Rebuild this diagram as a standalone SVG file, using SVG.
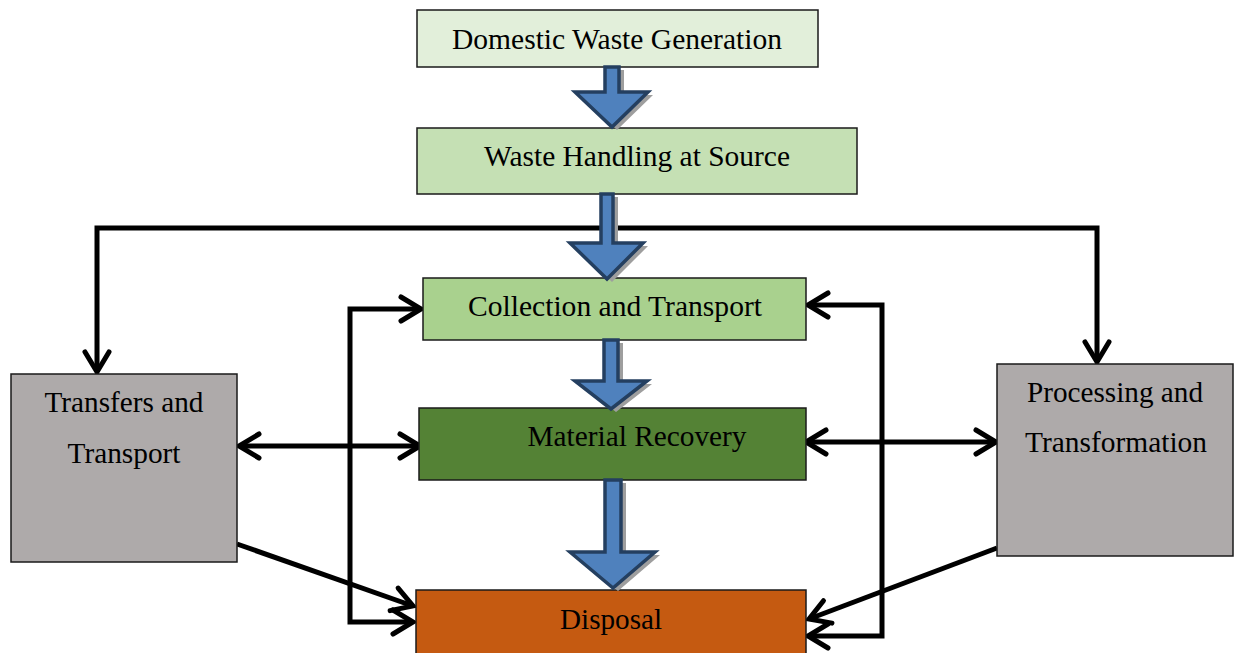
<svg xmlns="http://www.w3.org/2000/svg" width="1234" height="653" viewBox="0 0 1234 653">
  <style>
    .box { stroke: #1a1a1a; stroke-width: 1.5; }
    .lbl { font-family: "Liberation Serif", "Times New Roman", serif; font-size: 28.5px; fill: #000; text-anchor: middle; }
    .conn { fill: none; stroke: #000; stroke-width: 5; stroke-linejoin: miter; }
    .flow { fill: #4f81bd; stroke: #243f60; stroke-width: 3.5; stroke-linejoin: miter; }
    .flow-shadow { fill: #9e9e9e; }
  </style>
  <defs>
    <marker id="chev" markerUnits="userSpaceOnUse" viewBox="-26 -16 32 32" markerWidth="32" markerHeight="32" refX="0" refY="0" orient="auto-start-reverse" overflow="visible">
      <path d="M-20,-12 L0,0 L-20,12" fill="none" stroke="#000" stroke-width="5" stroke-linecap="round" stroke-linejoin="miter"/>
    </marker>
  </defs>

  <!-- connectors -->
  <g id="connectors">
    <path class="conn" d="M97,372 L97,228 L1097,228 L1097,362" marker-start="url(#chev)" marker-end="url(#chev)"/>
    <path class="conn" d="M413,622 L350,622 L350,309 L421,309" marker-start="url(#chev)" marker-end="url(#chev)"/>
    <path class="conn" d="M808,305 L882,305 L882,636 L808,636" marker-start="url(#chev)" marker-end="url(#chev)"/>
    <path class="conn" d="M239,446 L420,446" marker-start="url(#chev)" marker-end="url(#chev)"/>
    <path class="conn" d="M806,442 L996,442" marker-start="url(#chev)" marker-end="url(#chev)"/>
    <path class="conn" d="M237,544 L413,606" marker-end="url(#chev)"/>
    <path class="conn" d="M997,548 L809,619" marker-end="url(#chev)"/>
  </g>

  <!-- nodes -->
  <g id="node-generation">
    <rect class="box" x="417" y="10" width="401" height="57" fill="#e2efda"/>
    <text class="lbl" x="617" y="49" textLength="330" lengthAdjust="spacingAndGlyphs">Domestic Waste Generation</text>
  </g>
  <g id="node-handling">
    <rect class="box" x="417" y="128" width="440" height="66" fill="#c5e0b4"/>
    <text class="lbl" x="637" y="166" textLength="306" lengthAdjust="spacingAndGlyphs">Waste Handling at Source</text>
  </g>
  <g id="node-collection">
    <rect class="box" x="423" y="278" width="383" height="62" fill="#a9d18e"/>
    <text class="lbl" x="615" y="316" textLength="294" lengthAdjust="spacingAndGlyphs">Collection and Transport</text>
  </g>
  <g id="node-recovery">
    <rect class="box" x="419" y="408" width="387" height="72" fill="#548235"/>
    <text class="lbl" x="637" y="446" textLength="219" lengthAdjust="spacingAndGlyphs">Material Recovery</text>
  </g>
  <g id="node-disposal">
    <rect class="box" x="416" y="590" width="390" height="70" fill="#c55a11"/>
    <text class="lbl" x="611" y="629" textLength="102" lengthAdjust="spacingAndGlyphs">Disposal</text>
  </g>
  <g id="node-transfers">
    <rect class="box" x="11" y="374" width="226" height="188" fill="#aeaaaa"/>
    <text class="lbl" x="124" y="412" textLength="159" lengthAdjust="spacingAndGlyphs">Transfers and</text>
    <text class="lbl" x="124" y="463" textLength="113" lengthAdjust="spacingAndGlyphs">Transport</text>
  </g>
  <g id="node-processing">
    <rect class="box" x="997" y="364" width="236" height="192" fill="#aeaaaa"/>
    <text class="lbl" x="1115" y="402" textLength="176" lengthAdjust="spacingAndGlyphs">Processing and</text>
    <text class="lbl" x="1116" y="452" textLength="182" lengthAdjust="spacingAndGlyphs">Transformation</text>
  </g>

  <!-- main flow arrows -->
  <g id="flow-arrows">
    <g transform="translate(5,3)" class="flow-shadow">
      <path d="M605,67 L619,67 L619,92 L648,92 L612,127 L575,92 L605,92 Z"/>
      <path d="M601,194 L613,194 L613,243 L643,243 L607,279 L570,243 L601,243 Z"/>
      <path d="M604,340 L618,340 L618,381 L647,381 L611,409 L575,381 L604,381 Z"/>
      <path d="M605,480 L621,480 L621,552 L655,552 L613,588 L570,552 L605,552 Z"/>
    </g>
    <path class="flow" d="M605,67 L619,67 L619,92 L648,92 L612,127 L575,92 L605,92 Z"/>
    <path class="flow" d="M601,194 L613,194 L613,243 L643,243 L607,279 L570,243 L601,243 Z"/>
    <path class="flow" d="M604,340 L618,340 L618,381 L647,381 L611,409 L575,381 L604,381 Z"/>
    <path class="flow" d="M605,480 L621,480 L621,552 L655,552 L613,588 L570,552 L605,552 Z"/>
  </g>
</svg>
